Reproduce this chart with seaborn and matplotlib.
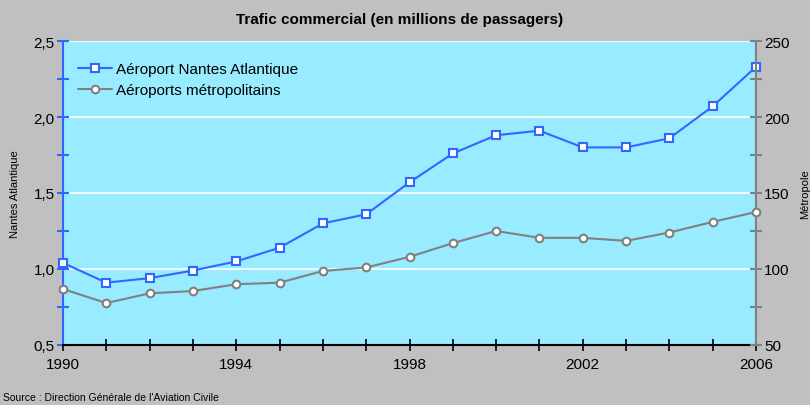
import matplotlib
matplotlib.use("Agg")
import matplotlib.pyplot as plt
import seaborn as sns
import pandas as pd
from matplotlib.ticker import MultipleLocator, FuncFormatter
from matplotlib import font_manager

years = list(range(1990, 2007))
nantes = [1.04, 0.91, 0.94, 0.99, 1.05, 1.14, 1.30, 1.36, 1.57, 1.76, 1.88, 1.91, 1.80, 1.80, 1.86, 2.07, 2.33]
metropole = [86.8, 77.6, 84.0, 85.5, 90.0, 91.0, 98.7, 101.0, 108.0, 117.0, 125.0, 120.5, 120.5, 118.5, 124.0, 131.0, 137.5]
xtick_labels = [1990, 1994, 1998, 2002, 2006]

sns.set_theme(style="white")
names = {f.name for f in font_manager.fontManager.ttflist}
fam = [f for f in ["Liberation Sans Narrow", "Liberation Sans", "DejaVu Sans"] if f in names]
plt.rcParams['font.family'] = fam
plt.rcParams['text.color'] = "black"
plt.rcParams['axes.labelcolor'] = "black"

BG = "#C0C0C0"
PLOT_BG = "#99EBFF"
BLUE = "#3366FF"
GREY = "#808080"

fig = plt.figure(figsize=(8.1, 4.06), dpi=100, facecolor=BG)
ax = fig.add_axes([63/810, 1-346/406, (756-63)/810, (346-42)/406])
ax.set_facecolor(PLOT_BG)
ax2 = ax.twinx()

df = pd.DataFrame({"year": years, "nantes": nantes, "metropole": metropole})

sns.lineplot(data=df, x="year", y="nantes", ax=ax, color=BLUE, marker="s",
             markersize=5.5, markerfacecolor="white", markeredgecolor=BLUE,
             markeredgewidth=1.5, linewidth=1.5, label="Aéroport Nantes Atlantique", legend=False,
             clip_on=False, zorder=4)
sns.lineplot(data=df, x="year", y="metropole", ax=ax2, color=GREY, marker="o",
             markersize=5.5, markerfacecolor="white", markeredgecolor=GREY,
             markeredgewidth=1.5, linewidth=1.5, label="Aéroports métropolitains", legend=False,
             clip_on=False, zorder=4)

ax.set_xlim(1990, 2006)
ax.set_ylim(0.5, 2.5)
ax2.set_ylim(50, 250)

ax.yaxis.set_major_locator(MultipleLocator(0.5))
ax.yaxis.set_minor_locator(MultipleLocator(0.25))
ax.yaxis.set_major_formatter(FuncFormatter(lambda v, p: f"{v:.1f}".replace(".", ",")))
ax2.yaxis.set_major_locator(MultipleLocator(50))
ax2.yaxis.set_minor_locator(MultipleLocator(25))
ax.set_xticks(years)
ax.set_xticklabels([str(y) if y in xtick_labels else "" for y in years])

ax.grid(False)
for v in [1.0, 1.5, 2.0, 2.5]:
    ax.axhline(v, color="white", linewidth=1.2, zorder=0.5)

for s in ["top"]:
    ax.spines[s].set_visible(False)
    ax2.spines[s].set_visible(False)
ax.spines["left"].set_color(BLUE)
ax.spines["left"].set_linewidth(1.5)
ax2.spines["left"].set_visible(False)
ax.spines["right"].set_visible(False)
ax2.spines["right"].set_color(GREY)
ax2.spines["right"].set_linewidth(1.5)
ax.spines["bottom"].set_color("black")
ax.spines["bottom"].set_linewidth(1.5)
ax2.spines["bottom"].set_visible(False)

ax.tick_params(axis="y", which="both", direction="inout", length=8, width=1.5, color=BLUE,
               labelsize=11, labelcolor="black", pad=2, left=True)
ax.tick_params(axis="x", which="both", direction="inout", length=8, width=1.2, color="black",
               labelsize=11, labelcolor="black", pad=5, bottom=True)
ax2.tick_params(axis="y", which="both", direction="inout", length=8, width=1.5, color=GREY,
                labelsize=11, labelcolor="black", pad=2, right=True)

ax.set_xlabel("")
ax.set_ylabel("Nantes Atlantique", fontsize=8, color="black")
ax2.set_ylabel("Métropole", fontsize=8, rotation=90, color="black")
ax.yaxis.set_label_coords(-0.062, 0.5)
ax2.yaxis.set_label_coords(1.063, 0.5)

h1, l1 = ax.get_legend_handles_labels()
h2, l2 = ax2.get_legend_handles_labels()
leg = ax.legend(h1 + h2, l1 + l2, loc="upper left", frameon=False, fontsize=11,
                bbox_to_anchor=(0.0, 0.98), handlelength=2.2, labelspacing=0.45,
                handletextpad=0.3, borderaxespad=0.6)
for t in leg.get_texts():
    t.set_color("black")
leg.set_zorder(5)

fig.text(400/810, 1-20/406, "Trafic commercial (en millions de passagers)", ha="center",
         va="center", fontsize=11, fontweight="bold", color="black")
fig.text(3/810, 1-398/406, "Source : Direction Générale de l'Aviation Civile", ha="left",
         va="center", fontsize=7.5, color="black")

fig.savefig("out.png", dpi=100, facecolor=BG)
